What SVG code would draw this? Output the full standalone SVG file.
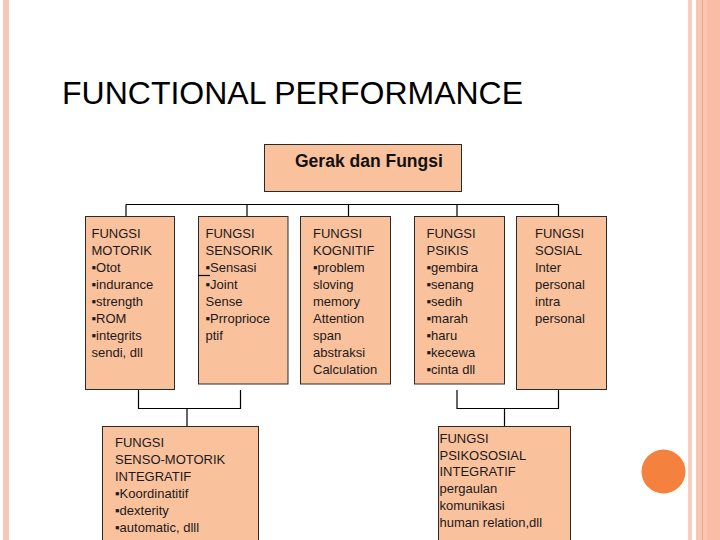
<svg xmlns="http://www.w3.org/2000/svg" width="720" height="540" viewBox="0 0 720 540">
<style>
.box{fill:#FAC19D;stroke:#2a2a2a;stroke-width:1}
.t{font-family:"Liberation Sans",Arial,sans-serif;font-size:13px;fill:#1a1a1a}
.con{fill:none;stroke:#000;stroke-width:1.2}
</style>
<rect x="0" y="0" width="720" height="540" fill="#fff"/>
<g id="frame">
<rect x="3" y="0" width="6" height="540" fill="#F8C8B4"/>
<rect x="688" y="0" width="4" height="540" fill="#F9CDBD"/>
<rect x="696" y="0" width="6" height="540" fill="#FAC6B2"/>
<rect x="702" y="0" width="1.5" height="540" fill="#F0A27A"/>
<rect x="703.5" y="0" width="3.5" height="540" fill="#FAC6B2"/>
<rect x="707" y="0" width="13" height="540" fill="#F9BCA7"/>
</g>
<text x="62" y="104" font-family="Liberation Sans,Arial,sans-serif" font-size="32" fill="#000">FUNCTIONAL PERFORMANCE</text>
<g id="root">
<rect class="box" x="264.5" y="144.5" width="197" height="47"/>
<text x="295" y="167" font-family="Liberation Sans,Arial,sans-serif" font-size="17.5" font-weight="bold" fill="#111">Gerak dan Fungsi</text>
</g>
<g id="motorik">
<rect class="box" x="85.5" y="216.5" width="89" height="173"/>
<text class="t" x="91.5" y="238"><tspan x="91.5">FUNGSI</tspan><tspan x="91.5" dy="17">MOTORIK</tspan><tspan x="91.5" dy="17">▪Otot</tspan><tspan x="91.5" dy="17">▪indurance</tspan><tspan x="91.5" dy="17">▪strength</tspan><tspan x="91.5" dy="17">▪ROM</tspan><tspan x="91.5" dy="17">▪integrits</tspan><tspan x="91.5" dy="17">sendi, dll</tspan></text>
</g>
<g id="sensorik">
<rect class="box" x="198.5" y="216.5" width="89.5" height="167.5"/>
<text class="t" x="205.5" y="238"><tspan x="205.5">FUNGSI</tspan><tspan x="205.5" dy="17">SENSORIK</tspan><tspan x="205.5" dy="17">▪Sensasi</tspan><tspan x="205.5" dy="17">▪Joint</tspan><tspan x="205.5" dy="17">Sense</tspan><tspan x="205.5" dy="17">▪Prroprioce</tspan><tspan x="205.5" dy="17">ptif</tspan></text>
</g>
<g id="kognitif">
<rect class="box" x="300.5" y="216.5" width="90" height="167.5"/>
<text class="t" x="313" y="238"><tspan x="313">FUNGSI</tspan><tspan x="313" dy="17">KOGNITIF</tspan><tspan x="313" dy="17">▪problem</tspan><tspan x="313" dy="17">sloving</tspan><tspan x="313" dy="17">memory</tspan><tspan x="313" dy="17">Attention</tspan><tspan x="313" dy="17">span</tspan><tspan x="313" dy="17">abstraksi</tspan><tspan x="313" dy="17">Calculation</tspan></text>
</g>
<g id="psikis">
<rect class="box" x="414.5" y="216.5" width="90" height="167.5"/>
<text class="t" x="426.5" y="238"><tspan x="426.5">FUNGSI</tspan><tspan x="426.5" dy="17">PSIKIS</tspan><tspan x="426.5" dy="17">▪gembira</tspan><tspan x="426.5" dy="17">▪senang</tspan><tspan x="426.5" dy="17">▪sedih</tspan><tspan x="426.5" dy="17">▪marah</tspan><tspan x="426.5" dy="17">▪haru</tspan><tspan x="426.5" dy="17">▪kecewa</tspan><tspan x="426.5" dy="17">▪cinta dll</tspan></text>
</g>
<g id="sosial">
<rect class="box" x="516.5" y="216.5" width="90" height="173"/>
<text class="t" x="535" y="238"><tspan x="535">FUNGSI</tspan><tspan x="535" dy="17">SOSIAL</tspan><tspan x="535" dy="17">Inter</tspan><tspan x="535" dy="17">personal</tspan><tspan x="535" dy="17">intra</tspan><tspan x="535" dy="17">personal</tspan></text>
</g>
<g id="sensomotorik">
<rect class="box" x="102.5" y="426.5" width="156" height="120"/>
<text class="t" x="115" y="447"><tspan x="115">FUNGSI</tspan><tspan x="115" dy="17">SENSO-MOTORIK</tspan><tspan x="115" dy="17">INTEGRATIF</tspan><tspan x="115" dy="17">▪Koordinatitif</tspan><tspan x="115" dy="17">▪dexterity</tspan><tspan x="115" dy="17">▪automatic, dlll</tspan></text>
</g>
<g id="psikososial">
<rect class="box" x="438.5" y="426.5" width="132" height="120"/>
<text class="t" x="439.5" y="443"><tspan x="439.5">FUNGSI</tspan><tspan x="439.5" dy="16.7">PSIKOSOSIAL</tspan><tspan x="439.5" dy="16.7">INTEGRATIF</tspan><tspan x="439.5" dy="16.7">pergaulan</tspan><tspan x="439.5" dy="16.7">komunikasi</tspan><tspan x="439.5" dy="16.7">human relation,dll</tspan></text>
</g>
<g id="connectors">
<path class="con" d="M126,204.5H558.5M126,204.5V216M247,204.5V216M348.5,204.5V216M457,204.5V216M558.5,204.5V216"/>
<path class="con" d="M138.5,390V408.5H240.5V390M187,408.5V426"/>
<path class="con" d="M457,390V408.5H558.5V390M504.5,408.5V426"/>
<path class="con" d="M198,275.5H210"/>
</g>
<circle cx="663.5" cy="471.5" r="22" fill="#F5813F"/>
</svg>
